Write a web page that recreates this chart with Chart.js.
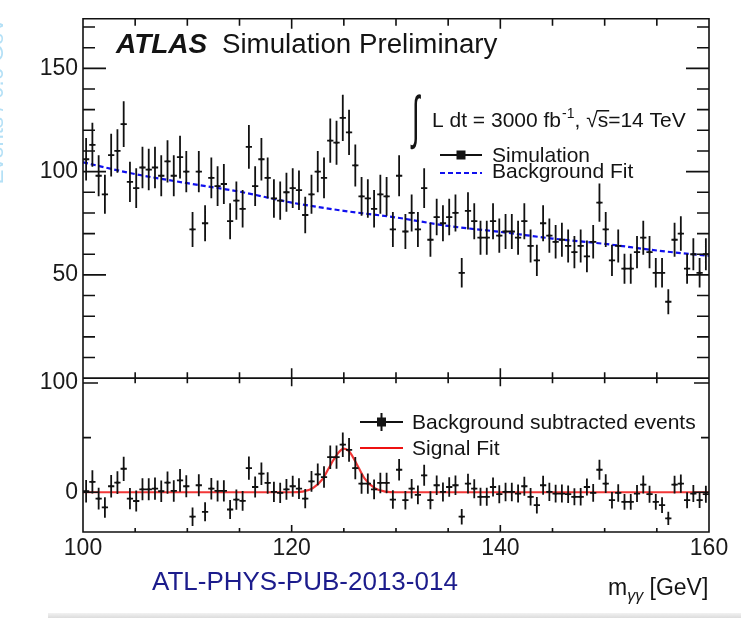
<!DOCTYPE html>
<html lang="en">
  <head>
    <meta charset="UTF-8" />
    <title>H to diphoton, HL-LHC simulation</title>
    <script src="https://cdn.jsdelivr.net/npm/chart.js"></script>
    <style>
      body {
        margin: 0;
        background: #fff;
      }

      .chart-container {
        position: relative;
        width: 741px;
        height: 618px;
      }

      .scan-edge {
        position: absolute;
        left: 48px;
        top: 613px;
        width: 693px;
        height: 5px;
        background: linear-gradient(#f2f2f2, #dcdcdc);
      }
    </style>
  </head>
  <body>
    <div class="chart-container">
      <canvas id="myyChart"></canvas>
      <div class="scan-edge"></div>
    </div>

    <script>
      // bin centres, 0.6 GeV bins from 100 to 160 GeV
      const binCenters = [
        100.3, 100.9, 101.5, 102.1, 102.7, 103.3, 103.9, 104.5, 105.1, 105.7,
        106.3, 106.9, 107.5, 108.1, 108.7, 109.3, 109.9, 110.5, 111.1, 111.7,
        112.3, 112.9, 113.5, 114.1, 114.7, 115.3, 115.9, 116.5, 117.1, 117.7,
        118.3, 118.9, 119.5, 120.1, 120.7, 121.3, 121.9, 122.5, 123.1, 123.7,
        124.3, 124.9, 125.5, 126.1, 126.7, 127.3, 127.9, 128.5, 129.1, 129.7,
        130.3, 130.9, 131.5, 132.1, 132.7, 133.3, 133.9, 134.5, 135.1, 135.7,
        136.3, 136.9, 137.5, 138.1, 138.7, 139.3, 139.9, 140.5, 141.1, 141.7,
        142.3, 142.9, 143.5, 144.1, 144.7, 145.3, 145.9, 146.5, 147.1, 147.7,
        148.3, 148.9, 149.5, 150.1, 150.7, 151.3, 151.9, 152.5, 153.1, 153.7,
        154.3, 154.9, 155.5, 156.1, 156.7, 157.3, 157.9, 158.5, 159.1, 159.7,
      ];
      const binHalf = 0.3;

      // simulated events per bin
      const counts = [
        106, 113, 98, 89, 108, 110, 123, 95, 92, 102,
        101, 102, 98, 105, 98, 107, 100, 72, 100, 75,
        97, 93, 94, 76, 86, 82, 112, 93, 106, 97,
        87, 86, 90, 92, 91, 79, 89, 100, 97, 115,
        114, 126, 119, 103, 88, 87, 82, 89, 88, 72,
        98, 71, 80, 72, 92, 67, 78, 75, 78, 80,
        51, 81, 76, 68, 68, 76, 69, 71, 71, 68,
        76, 64, 57, 75, 69, 66, 67, 64, 61, 64,
        59, 66, 85, 72, 57, 64, 53, 53, 61, 68,
        61, 51, 51, 37, 67, 70, 53, 60, 51, 60,
      ];

      // background subtracted events per bin
      const residuals = [
        1, 9.5, -5.8, -13.9, 5.5, 8.8, 21.5, -5.8, -8, 2.7,
        2.7, 3.3, 0.9, 8.8, 1.2, 10.9, 5.5, -22.4, 6.4, -17.9,
        3.3, 1.2, 1.2, -15.8, -6.7, -7.9, 22.1, 4.8, 17, 8.5,
        0.3, -0.6, 2.7, 5.5, 3.3, -5.8, 10, 16.4, 13.9, 32.1,
        32.1, 43.6, 38.8, 22.1, 7.9, 7.9, 2.7, 8.5, 8.5, -6.7,
        20.6, -7.3, 3.3, -2.4, 15.5, -7.3, 6.4, 0.3, 4.8, 6.4,
        -22.4, 7.9, 3.3, -4.2, -4.2, 4.8, -1.8, 0.3, 0.3, -1.2,
        5.5, -4.2, -11.8, 6.4, 0.3, -1.2, -1.2, -1.8, -4.2, -4.2,
        4.8, -0.6, 20.6, 7.9, -7.3, -0.6, -8.8, -8.8, -1.2, 7,
        -1.8, -8.8, -11.8, -23.9, 7, 7.9, -7.3, -1.2, -7.3, -1.8,
      ];

      // background fit curve
      const bkgFitX = [100, 105, 110, 115, 120, 125, 130, 135, 140, 145, 150, 155, 160];
      const bkgFitY = [104.5, 98.8, 94.4, 90.3, 85, 81, 77.8, 73.7, 70.8, 67.6, 65, 61.8, 59.2];

      // signal fit curve
      const sigFitX = [100, 120, 121, 122, 123, 123.5, 124, 124.5, 125, 125.5, 126, 126.5, 127, 128, 129, 130, 160];
      const sigFitY = [0, 0, 0.6, 3.5, 12.5, 21, 29.5, 36.5, 40, 37.5, 30, 21, 12.5, 3.5, 0.6, 0, 0];

      // axis ticks
      const xLabels = [100, 120, 140, 160];
      const xMinor = [105, 110, 115, 125, 130, 135, 145, 150, 155];
      const yUpLabels = [50, 100, 150];
      const yUpMajor = [0, 50, 100, 150];
      const yUpMinor = [10, 20, 30, 40, 60, 70, 80, 90, 110, 120, 130, 140, 160, 170];
      const yLowLabels = [0, 100];
      const yLowMinor = [50];

      const FONT = '"Liberation Sans", Arial, Helvetica, sans-serif';
      Chart.defaults.font.family = FONT;

      const errorBars = {
        id: "errorBars",
        afterDatasetsDraw(chart) {
          const ctx = chart.ctx;
          const x = chart.scales.x;
          chart.data.datasets.forEach((ds) => {
            if (!ds.errors) return;
            const y = chart.scales[ds.yAxisID];
            ctx.save();
            ctx.beginPath();
            ctx.rect(x.left, y.top, x.width, y.height);
            ctx.clip();
            ctx.strokeStyle = "#111";
            ctx.lineWidth = 1.8;
            ctx.beginPath();
            ds.data.forEach((p, j) => {
              const px = x.getPixelForValue(p.x);
              const py = y.getPixelForValue(p.y);
              ctx.moveTo(px, y.getPixelForValue(p.y - ds.errors[j]));
              ctx.lineTo(px, y.getPixelForValue(p.y + ds.errors[j]));
              ctx.moveTo(x.getPixelForValue(p.x - binHalf), py);
              ctx.lineTo(x.getPixelForValue(p.x + binHalf), py);
            });
            ctx.stroke();
            ctx.restore();
          });
        },
      };

      // ROOT style frame with inward ticks on every side
      const frameTicks = {
        id: "frameTicks",
        afterDatasetsDraw(chart) {
          const { ctx, chartArea: a } = chart;
          const { x, yUp, yLow } = chart.scales;
          const mid = yUp.bottom;
          ctx.save();
          ctx.strokeStyle = "#111";
          ctx.lineWidth = 1.6;
          ctx.beginPath();
          const xt = (vals, yPix, len) => {
            vals.forEach((v) => {
              const px = x.getPixelForValue(v);
              ctx.moveTo(px, yPix);
              ctx.lineTo(px, yPix + len);
            });
          };
          const yt = (scale, vals, len) => {
            vals.forEach((v) => {
              const py = scale.getPixelForValue(v);
              ctx.moveTo(a.left, py);
              ctx.lineTo(a.left + len, py);
              ctx.moveTo(a.right, py);
              ctx.lineTo(a.right - len, py);
            });
          };
          xt(xLabels, a.top, 10);
          xt(xMinor, a.top, 7);
          xt(xLabels, mid, -10);
          xt(xMinor, mid, -6);
          xt(xLabels, mid, 8);
          xt(xMinor, mid, 5);
          xt(xLabels, a.bottom, -7);
          xt(xMinor, a.bottom, -4);
          yt(yUp, yUpMajor, 23);
          yt(yUp, yUpMinor, 12);
          yt(yLow, yLowLabels, 15);
          yt(yLow, yLowMinor, 8);
          ctx.moveTo(a.left, mid);
          ctx.lineTo(a.right, mid);
          ctx.rect(a.left, a.top, a.width, a.height);
          ctx.stroke();
          ctx.restore();
        },
      };

      const annotations = {
        id: "annotations",
        afterDraw(chart) {
          const ctx = chart.ctx;
          ctx.save();
          ctx.fillStyle = "#141414";
          ctx.textBaseline = "alphabetic";

          ctx.font = "italic bold 28px " + FONT;
          ctx.fillText("ATLAS", 116, 53);
          ctx.font = "27.7px " + FONT;
          ctx.fillText("Simulation Preliminary", 222, 53);

          // luminosity and energy, with a tall thin integral sign
          ctx.save();
          ctx.translate(412, 137);
          ctx.scale(0.7, 1.45);
          ctx.font = "40px " + FONT;
          ctx.fillText("\u222B", 0, 0);
          ctx.restore();
          ctx.font = "21px " + FONT;
          let tx = 432;
          ctx.fillText("L dt = 3000 fb", tx, 127);
          tx += ctx.measureText("L dt = 3000 fb").width;
          ctx.font = "14px " + FONT;
          ctx.fillText("-1", tx + 1, 118);
          tx += ctx.measureText("-1").width + 1;
          ctx.font = "21px " + FONT;
          ctx.fillText(", \u221As", tx, 127);
          const sEnd = tx + ctx.measureText(", \u221As").width;
          const sw = ctx.measureText("s").width;
          ctx.fillRect(sEnd - sw - 1, 110, sw + 2, 1.5);
          ctx.fillText("=14 TeV", sEnd, 127);

          // legend, upper panel
          ctx.strokeStyle = "#111";
          ctx.lineWidth = 2;
          ctx.beginPath();
          ctx.moveTo(440, 155);
          ctx.lineTo(482, 155);
          ctx.stroke();
          ctx.fillRect(456.5, 150.5, 9, 9);
          ctx.strokeStyle = "#1010ee";
          ctx.setLineDash([5, 3]);
          ctx.beginPath();
          ctx.moveTo(440, 173);
          ctx.lineTo(482, 173);
          ctx.stroke();
          ctx.setLineDash([]);
          ctx.font = "21px " + FONT;
          ctx.fillText("Simulation", 492, 162);
          ctx.fillText("Background Fit", 492, 178);

          // legend, lower panel
          ctx.strokeStyle = "#111";
          ctx.beginPath();
          ctx.moveTo(360, 422);
          ctx.lineTo(403, 422);
          ctx.moveTo(381.5, 413);
          ctx.lineTo(381.5, 431);
          ctx.stroke();
          ctx.fillRect(377, 417.5, 9, 9);
          ctx.strokeStyle = "#ee1111";
          ctx.beginPath();
          ctx.moveTo(360, 448);
          ctx.lineTo(403, 448);
          ctx.stroke();
          ctx.fillText("Background subtracted events", 412, 429);
          ctx.fillText("Signal Fit", 412, 455);

          // axis title
          ctx.font = "23px " + FONT;
          ctx.fillText("m", 608, 595);
          let mx = 608 + ctx.measureText("m").width;
          ctx.font = "italic 16px " + FONT;
          ctx.fillText("\u03B3\u03B3", mx, 601);
          mx += ctx.measureText("\u03B3\u03B3").width;
          ctx.font = "23px " + FONT;
          ctx.fillText(" [GeV]", mx, 595);

          ctx.fillStyle = "#1c1c8c";
          ctx.font = "26px " + FONT;
          ctx.fillText("ATL-PHYS-PUB-2013-014", 152, 590);

          // y title, mostly cut off at the left edge
          ctx.fillStyle = "#b4e0f6";
          ctx.font = "22px " + FONT;
          ctx.translate(3, 18);
          ctx.rotate(-Math.PI / 2);
          ctx.textAlign = "right";
          ctx.fillText("Events / 0.6 GeV", 0, 0);
          ctx.restore();
        },
      };

      const ctx = document.getElementById("myyChart").getContext("2d");

      const myyChart = new Chart(ctx, {
        type: "scatter",
        data: {
          datasets: [
            {
              label: "Background Fit",
              type: "line",
              data: bkgFitX.map((v, i) => ({ x: v, y: bkgFitY[i] })),
              yAxisID: "yUp",
              borderColor: "#1010ee",
              borderWidth: 2.2,
              borderDash: [5, 3],
              pointRadius: 0,
              cubicInterpolationMode: "monotone",
            },
            {
              label: "Simulation",
              data: binCenters.map((v, i) => ({ x: v, y: counts[i] })),
              errors: counts.map(Math.sqrt),
              yAxisID: "yUp",
              pointStyle: "rect",
              pointRadius: 1.5,
              backgroundColor: "#111",
              borderWidth: 0,
            },
            {
              label: "Signal Fit",
              type: "line",
              data: sigFitX.map((v, i) => ({ x: v, y: sigFitY[i] })),
              yAxisID: "yLow",
              borderColor: "rgba(240, 20, 20, 0.85)",
              borderWidth: 2.2,
              pointRadius: 0,
              cubicInterpolationMode: "monotone",
            },
            {
              label: "Background subtracted events",
              data: binCenters.map((v, i) => ({ x: v, y: residuals[i] })),
              errors: counts.map(Math.sqrt),
              yAxisID: "yLow",
              pointStyle: "rect",
              pointRadius: 1.5,
              backgroundColor: "#111",
              borderWidth: 0,
            },
          ],
        },
        options: {
          responsive: true,
          maintainAspectRatio: false,
          animation: false,
          layout: { padding: { top: 15, right: 32, left: 0, bottom: 0 } },
          plugins: {
            legend: { display: false },
            tooltip: { enabled: false },
          },
          scales: {
            x: {
              type: "linear",
              min: 100,
              max: 160,
              grid: { display: false, drawTicks: false },
              border: { display: false },
              ticks: { font: { size: 23 }, color: "#1a1a1a", padding: 3, maxRotation: 0, autoSkip: false },
              afterBuildTicks: (s) => {
                s.ticks = xLabels.map((v) => ({ value: v }));
              },
              afterFit: (s) => {
                s.height = 86;
              },
            },
            yLow: {
              type: "linear",
              axis: "y",
              position: "left",
              stack: "panels",
              stackWeight: 155,
              min: -36.4,
              max: 104.5,
              grid: { display: false, drawTicks: false },
              border: { display: false },
              ticks: { font: { size: 23 }, color: "#1a1a1a", padding: 5 },
              afterBuildTicks: (s) => {
                s.ticks = yLowLabels.map((v) => ({ value: v }));
              },
              afterFit: (s) => {
                s.width = 83;
              },
            },
            yUp: {
              type: "linear",
              axis: "y",
              position: "left",
              stack: "panels",
              stackWeight: 362,
              min: 0,
              max: 174,
              grid: { display: false, drawTicks: false },
              border: { display: false },
              ticks: { font: { size: 23 }, color: "#1a1a1a", padding: 5 },
              afterBuildTicks: (s) => {
                s.ticks = yUpLabels.map((v) => ({ value: v }));
              },
              afterFit: (s) => {
                s.width = 83;
              },
            },
          },
        },
        plugins: [errorBars, frameTicks, annotations],
      });
    </script>
  </body>
</html>
